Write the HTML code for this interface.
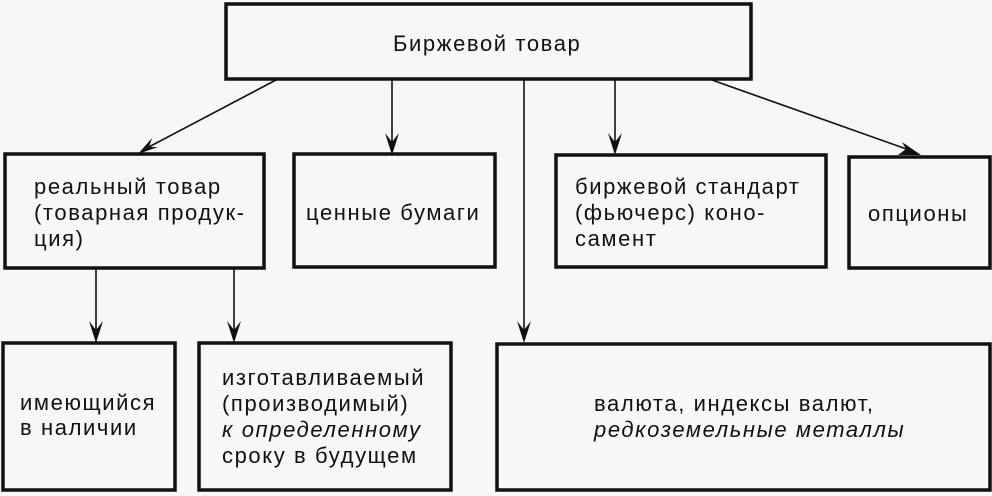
<!DOCTYPE html>
<html><head><meta charset="utf-8"><style>
html,body{margin:0;padding:0;background:#f7f7f7;}
svg{display:block;}
text{font-family:"Liberation Sans",Arial,sans-serif;font-size:22px;letter-spacing:1.6px;fill:#111;}
.b{fill:#f7f7f7;stroke:#111;stroke-width:3.5;}
.l{stroke:#111;stroke-width:1.6;fill:none;}
.h{fill:#111;}
</style></head><body>
<svg width="992" height="496" viewBox="0 0 992 496" xmlns="http://www.w3.org/2000/svg">
<rect class="b" x="226" y="4" width="525" height="75"/>
<text x="393" y="51">Биржевой товар</text>

<line class="l" x1="276" y1="80" x2="145" y2="149"/>
<polygon class="h" points="138,154 152,138 149,147 158,147"/>
<line class="l" x1="392" y1="80" x2="392" y2="148"/>
<polygon class="h" points="392,155 385,133 392,142 399,133"/>
<line class="l" x1="524" y1="80" x2="524" y2="337"/>
<polygon class="h" points="524,343 517,321 524,330 531,321"/>
<line class="l" x1="615" y1="80" x2="615" y2="148"/>
<polygon class="h" points="615,155 608,133 615,142 622,133"/>
<line class="l" x1="712" y1="80" x2="912" y2="151"/>
<polygon class="h" points="921,155 898,155 906,149 902,142"/>
<line class="l" x1="96" y1="268" x2="96" y2="337"/>
<polygon class="h" points="96,343 89,321 96,330 103,321"/>
<line class="l" x1="234" y1="268" x2="234" y2="337"/>
<polygon class="h" points="234,343 227,321 234,330 241,321"/>

<rect class="b" x="5" y="154" width="259" height="114"/>
<text x="34" y="194">реальный товар</text>
<text x="34" y="220">(товарная продук-</text>
<text x="34" y="246">ция)</text>

<rect class="b" x="294" y="154" width="201" height="113"/>
<text x="306" y="220">ценные бумаги</text>

<rect class="b" x="556" y="155" width="270" height="112"/>
<text x="575" y="194">биржевой стандарт</text>
<text x="575" y="220">(фьючерс) коно-</text>
<text x="575" y="246">самент</text>

<rect class="b" x="849" y="157" width="141" height="111"/>
<text x="868" y="221">опционы</text>

<rect class="b" x="3" y="343" width="172" height="147"/>
<text x="20" y="410">имеющийся</text>
<text x="20" y="435">в наличии</text>

<rect class="b" x="199" y="343" width="252" height="147"/>
<text x="222" y="385">изготавливаемый</text>
<text x="222" y="411">(производимый)</text>
<text x="222" y="437" style="font-style:italic">к определенному</text>
<text x="222" y="463">сроку в будущем</text>

<rect class="b" x="497" y="344" width="493" height="146"/>
<text x="594" y="411">валюта, индексы валют,</text>
<text x="594" y="437" style="font-style:italic">редкоземельные металлы</text>
</svg>
</body></html>
